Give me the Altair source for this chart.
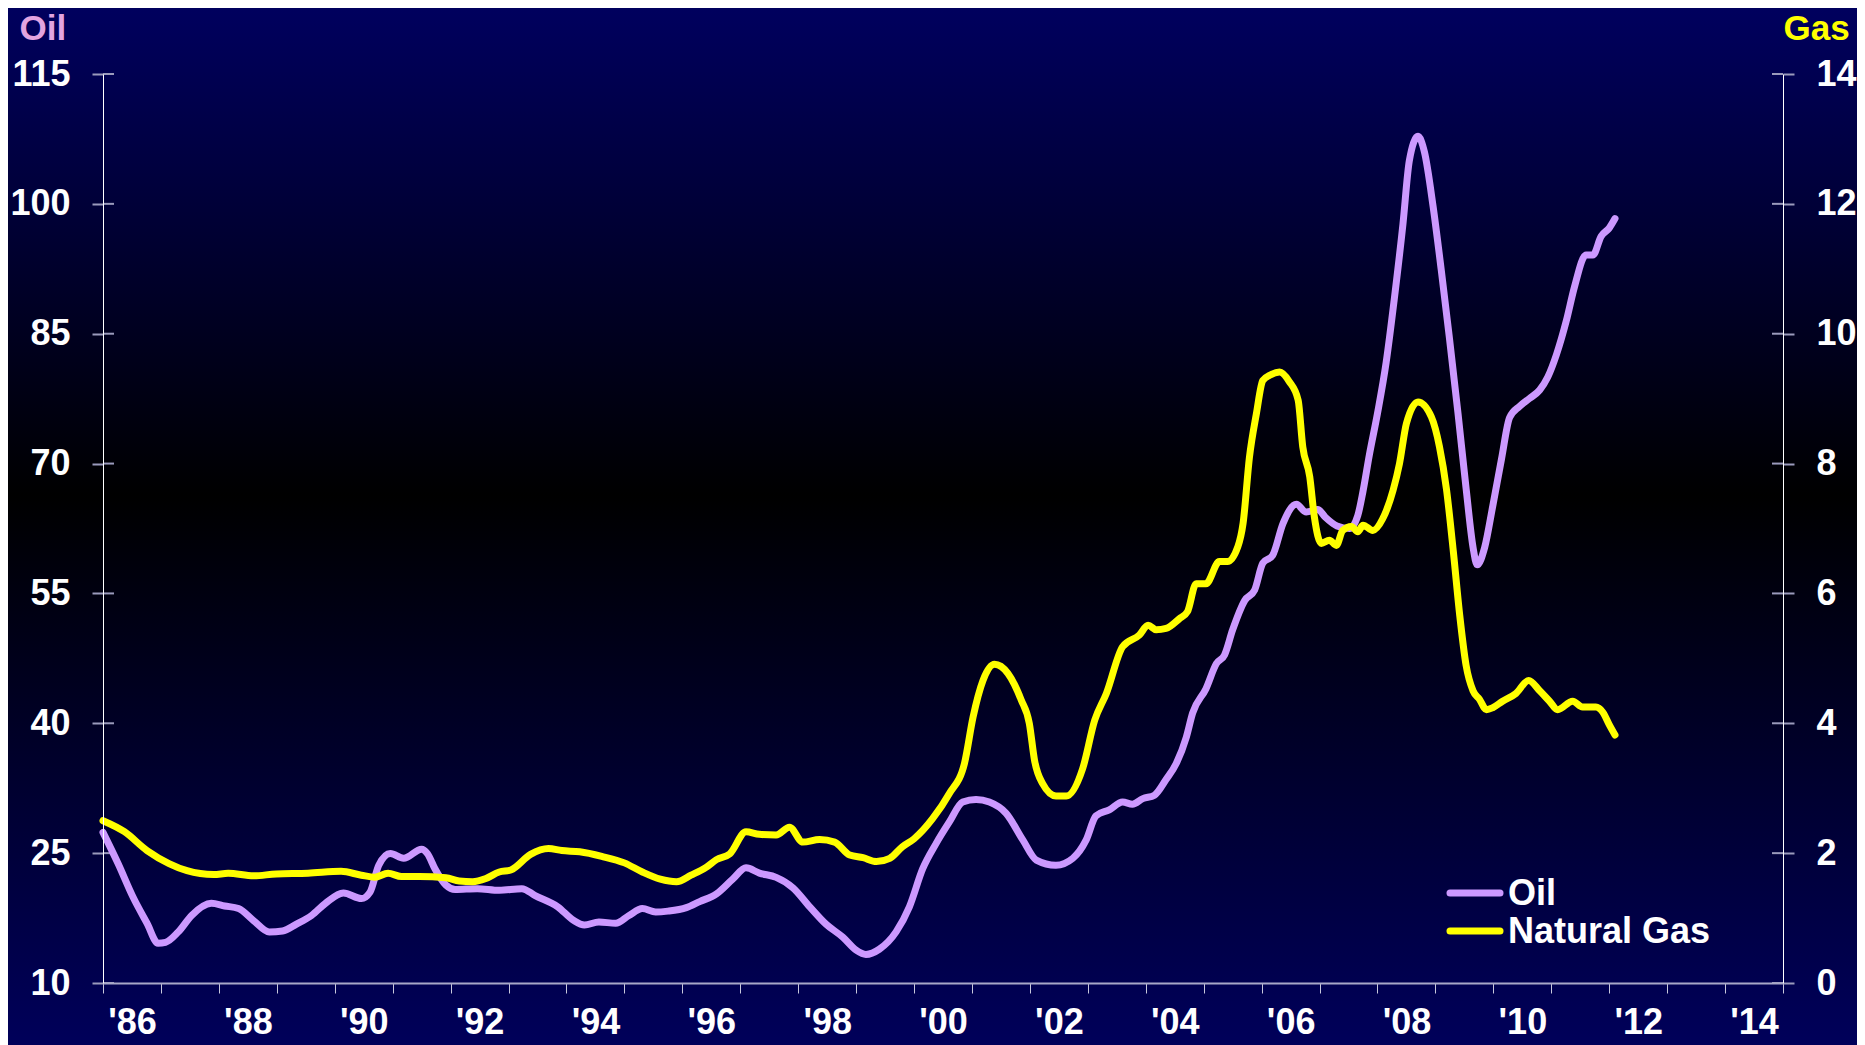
import altair as alt
import pandas as pd

# ---------------- data ----------------
oil_years = [1986.0, 1986.26, 1986.52, 1986.76, 1986.95, 1987.08, 1987.3, 1987.53, 1987.87, 1988.1,
             1988.34, 1988.6, 1988.87, 1989.1, 1989.34, 1989.6, 1989.84, 1990.15, 1990.46, 1990.61,
             1990.76, 1990.96, 1991.19, 1991.5, 1991.6, 1991.73, 1991.92, 1992.08, 1992.46, 1992.84,
             1993.23, 1993.46, 1993.85, 1994.12, 1994.31, 1994.56, 1994.85, 1995.08, 1995.31, 1995.54,
             1995.75, 1996.07, 1996.3, 1996.59, 1996.87, 1997.1, 1997.33, 1997.62, 1997.91, 1998.2,
             1998.48, 1998.77, 1999.0, 1999.17, 1999.4, 1999.69, 1999.92, 2000.15, 2000.38, 2000.61,
             2000.84, 2001.07, 2001.3, 2001.59, 2001.88, 2002.11, 2002.45, 2002.74, 2002.97, 2003.14,
             2003.37, 2003.6, 2003.77, 2003.95, 2004.15, 2004.35, 2004.53, 2004.7, 2004.81, 2005.04,
             2005.22, 2005.36, 2005.5, 2005.71, 2005.88, 2006.02, 2006.19, 2006.37, 2006.6, 2006.77,
             2006.97, 2007.1, 2007.3, 2007.52, 2007.66, 2007.75, 2007.86, 2008.0, 2008.15, 2008.29,
             2008.44, 2008.55, 2008.7, 2008.81, 2008.96, 2009.1, 2009.24, 2009.39, 2009.53, 2009.65,
             2009.72, 2009.85, 2009.99, 2010.14, 2010.28, 2010.45, 2010.62, 2010.8, 2010.94, 2011.09,
             2011.26, 2011.4, 2011.6, 2011.72, 2011.86, 2012.0, 2012.1]
oil_values = [27.4, 23.8, 19.9, 16.9, 14.6, 14.7, 15.9, 17.8, 19.2, 18.9,
              18.6, 17.2, 15.9, 16.0, 16.8, 17.8, 19.2, 20.4, 19.75, 20.5,
              23.6, 24.95, 24.4, 25.45, 24.95, 23.2, 21.3, 20.8, 20.9, 20.7,
              20.9, 20.1, 18.8, 17.25, 16.7, 17.05, 16.9, 17.8, 18.6, 18.2,
              18.3, 18.7, 19.4, 20.3, 22.0, 23.3, 22.7, 22.2, 21.0, 18.8,
              16.8, 15.3, 13.8, 13.3, 13.9, 15.9, 18.8, 23.2, 26.1, 28.6,
              30.9, 31.2, 30.9, 29.6, 26.5, 24.2, 23.6, 24.4, 26.5, 29.3,
              30.0, 30.9, 30.65, 31.3, 31.7, 33.5, 35.4, 38.4, 41.2, 44.0,
              46.9, 47.9, 50.8, 54.2, 55.4, 58.5, 59.4, 63.1, 65.3, 64.4,
              64.7, 63.8, 62.8, 62.5, 64.0, 66.8, 71.0, 75.8, 81.7, 89.0,
              97.7, 105.0, 107.8, 106.0, 99.7, 92.4, 84.6, 75.8, 67.1, 60.3,
              58.3, 60.3, 65.1, 70.5, 75.3, 76.6, 77.5, 78.5, 80.0, 82.6,
              86.5, 90.4, 94.1, 94.1, 96.25, 97.2, 98.3]

gas_years = [1986.0, 1986.37, 1986.76, 1987.14, 1987.45, 1987.91, 1988.16, 1988.6, 1988.99, 1989.54,
             1990.11, 1990.46, 1990.69, 1990.92, 1991.15, 1991.46, 1991.92, 1992.15, 1992.38, 1992.61,
             1992.84, 1993.04, 1993.38, 1993.69, 1993.92, 1994.23, 1994.61, 1995.0, 1995.31, 1995.62,
             1995.9, 1996.15, 1996.41, 1996.59, 1996.82, 1997.1, 1997.33, 1997.62, 1997.85, 1998.08,
             1998.37, 1998.63, 1998.89, 1999.12, 1999.35, 1999.58, 1999.8, 2000.0, 2000.32, 2000.61,
             2000.87, 2001.02, 2001.19, 2001.39, 2001.62, 2001.85, 2001.99, 2002.08, 2002.22, 2002.45,
             2002.63, 2002.91, 2003.12, 2003.32, 2003.6, 2003.89, 2004.04, 2004.18, 2004.35, 2004.58,
             2004.72, 2004.87, 2005.04, 2005.27, 2005.41, 2005.59, 2005.68, 2005.79, 2005.91, 2006.02,
             2006.14, 2006.31, 2006.48, 2006.63, 2006.71, 2006.83, 2006.91, 2007.03, 2007.17, 2007.29,
             2007.4, 2007.55, 2007.66, 2007.75, 2007.92, 2008.09, 2008.27, 2008.38, 2008.5, 2008.7,
             2008.93, 2009.07, 2009.19, 2009.31, 2009.42, 2009.53, 2009.65, 2009.76, 2009.88, 2009.99,
             2010.16, 2010.39, 2010.61, 2010.8, 2010.97, 2011.11, 2011.37, 2011.54, 2011.77, 2011.89,
             2012.0, 2012.1]
gas_values = [2.50, 2.33, 2.04, 1.84, 1.73, 1.67, 1.69, 1.65, 1.68, 1.69,
              1.72, 1.66, 1.63, 1.69, 1.64, 1.64, 1.62, 1.57, 1.56, 1.61,
              1.71, 1.74, 1.98, 2.07, 2.04, 2.02, 1.95, 1.85, 1.71, 1.60,
              1.56, 1.66, 1.78, 1.90, 1.99, 2.33, 2.29, 2.28, 2.40, 2.17,
              2.21, 2.17, 1.97, 1.93, 1.87, 1.92, 2.10, 2.22, 2.53, 2.92,
              3.38, 4.10, 4.66, 4.91, 4.77, 4.36, 4.00, 3.43, 3.07, 2.88,
              2.88, 3.30, 4.05, 4.46, 5.18, 5.36, 5.51, 5.44, 5.46, 5.61,
              5.72, 6.15, 6.15, 6.49, 6.49, 6.72, 7.08, 8.10, 8.77, 9.28,
              9.36, 9.41, 9.26, 8.98, 8.26, 7.80, 7.18, 6.77, 6.82, 6.74,
              6.97, 7.03, 6.95, 7.05, 6.97, 7.15, 7.59, 8.00, 8.62, 8.95,
              8.72, 8.26, 7.61, 6.64, 5.66, 4.89, 4.50, 4.37, 4.21, 4.24,
              4.34, 4.46, 4.66, 4.50, 4.34, 4.21, 4.34, 4.25, 4.25, 4.17,
              3.98, 3.82]

series_names = ["Oil", "Natural Gas"]
series_colors = ["#CC99FF", "#FFFF00"]
oil_ticks = [10, 25, 40, 55, 70, 85, 100, 115]
gas_ticks = [0, 2, 4, 6, 8, 10, 12, 14]
year_ticks = list(range(1986, 2016))
oil_domain = [10, 115]
gas_domain = [0, 14]
year_domain = [1986, 2015]

# ---------------- layout / style ----------------
W, H = 1680, 909
PAD = {"left": 95, "top": 66, "right": 74, "bottom": 62}
FONT = "Liberation Sans"
TICK_GREY = "#9A9ABC"
LINE_W = 7
# legend box placement (plot-area pixels)
LEG_X0, LEG_X1, LEG_TXT = 1347, 1397, 1405
LEG_ROWS = [819, 857]

oil_df = pd.DataFrame({"year": oil_years, "value": oil_values, "series": "Oil"})
gas_df = pd.DataFrame({"year": gas_years, "value": gas_values, "series": "Natural Gas"})
oil_tick_df = pd.DataFrame({"value": oil_ticks})
gas_tick_df = pd.DataFrame({"value": gas_ticks})
legend_df = pd.DataFrame({"series": series_names, "row": list(range(len(series_names)))})
bg_df = pd.DataFrame({"k": [0]})

x_enc = alt.X(
    "year:Q",
    scale=alt.Scale(domain=year_domain, nice=False, zero=False),
    axis=alt.Axis(
        values=year_ticks, format="d", title=None, grid=False, zindex=1,
        labelExpr="datum.value % 2 == 0 && datum.value < 2015 ? \"'\" + substring(toString(datum.value), 2, 4) : ''",
        labelOffset=29, labelFlush=False, labelOverlap=False, labelBound=False,
        labelFont=FONT, labelFontSize=36, labelFontWeight="bold", labelColor="white",
        labelPadding=12, tickSize=10, tickColor="#C8C8DC", tickWidth=1,
        domainColor="#A8A8C8", domainWidth=2,
    ),
)

color_scale = alt.Scale(domain=series_names, range=series_colors)
color_enc = alt.Color("series:N", scale=color_scale, legend=None)


def y_axis(orient, title, title_color, title_x, values):
    return alt.Axis(
        orient=orient, values=values, grid=False, zindex=1,
        title=title, titleAngle=0, titleAlign="left", titleBaseline="alphabetic",
        titleX=title_x, titleY=-35, titleFont=FONT, titleFontSize=35,
        titleFontWeight="bold", titleColor=title_color,
        labelFont=FONT, labelFontSize=36, labelFontWeight="bold", labelColor="white",
        labelFlush=False, labelOverlap=False, labelPadding=22,
        tickSize=11, tickColor=TICK_GREY, tickWidth=2,
        domainColor="white", domainWidth=1,
    )


y_oil = alt.Y("value:Q", scale=alt.Scale(domain=oil_domain, nice=False, zero=False),
              axis=y_axis("left", "Oil", "#E2A4E0", -84, oil_ticks))
y_gas = alt.Y("value:Q", scale=alt.Scale(domain=gas_domain, nice=False, zero=False),
              axis=y_axis("right", "Gas", "#FFFF00", 0, gas_ticks))

background = alt.Chart(bg_df).mark_rect(
    fill={
        "gradient": "linear", "x1": 0, "y1": 0, "x2": 0, "y2": 1,
        "stops": [
            {"offset": 0.0, "color": "#00005E"},
            {"offset": 0.47, "color": "#000000"},
            {"offset": 1.0, "color": "#00005A"},
        ],
    }
).encode(
    x=alt.value(-PAD["left"]), x2=alt.value(W + PAD["right"]),
    y=alt.value(-PAD["top"]), y2=alt.value(H + PAD["bottom"]),
)

oil_inner_ticks = alt.Chart(oil_tick_df).mark_rule(color=TICK_GREY, strokeWidth=2).encode(
    y=y_oil, x=alt.value(0), x2=alt.value(11)
)
oil_line = alt.Chart(oil_df).mark_line(
    strokeWidth=LINE_W, strokeJoin="round", strokeCap="round", interpolate="monotone"
).encode(x=x_enc, y=y_oil, color=color_enc)

gas_inner_ticks = alt.Chart(gas_tick_df).mark_rule(color=TICK_GREY, strokeWidth=2).encode(
    y=y_gas, x=alt.value(W - 11), x2=alt.value(W)
)
gas_line = alt.Chart(gas_df).mark_line(
    strokeWidth=LINE_W, strokeJoin="round", strokeCap="round", interpolate="monotone"
).encode(x=x_enc, y=y_gas, color=color_enc)

# legend built from the series names
leg_y = alt.Y("row:Q", scale=alt.Scale(domain=[0, len(series_names) - 1], range=LEG_ROWS), axis=None)
legend_lines = alt.Chart(legend_df).mark_rule(strokeWidth=LINE_W, strokeCap="round").encode(
    x=alt.value(LEG_X0), x2=alt.value(LEG_X1), y=leg_y, color=color_enc
)
legend_text = alt.Chart(legend_df).mark_text(
    align="left", baseline="middle", font=FONT, fontSize=36, fontWeight="bold", color="white", dy=1
).encode(x=alt.value(LEG_TXT), y=leg_y, text="series:N")
legend_layer = alt.layer(legend_lines, legend_text)

oil_layer = alt.layer(oil_inner_ticks, oil_line)
gas_layer = alt.layer(gas_inner_ticks, gas_line)

chart = alt.layer(background, oil_layer, gas_layer, legend_layer).resolve_scale(
    y="independent"
).properties(
    width=W, height=H,
    autosize=alt.AutoSizeParams(type="none"),
    padding=PAD,
    background="#00004A",
).configure(font=FONT).configure_view(stroke="transparent")

chart.save("out.html", embed_options={"renderer": "svg", "actions": False})
